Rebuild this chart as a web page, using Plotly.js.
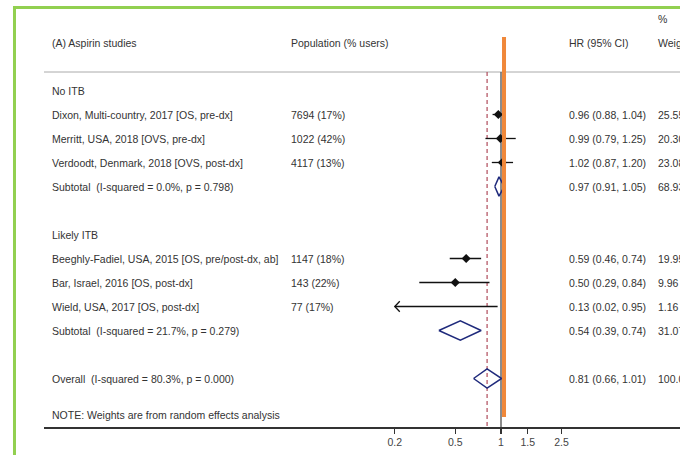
<!DOCTYPE html>
<html>
<head>
<meta charset="utf-8">
<script src="https://cdn.plot.ly/plotly-3.0.1.min.js"></script>
<style>
  html, body { margin: 0; padding: 0; background: #ffffff; }
  #chart { width: 680px; height: 455px; }
</style>
</head>
<body>
<div id="chart"></div>
<script>
// ---------------- data ----------------
const panelTitle = "(A) Aspirin studies";
const colHeaders = ["Population (% users)", "HR (95% CI)", "Weight"];
const weightHeaderTop = "%";

const groupNames = ["No ITB", "Likely ITB"];

const studies = [
  "Dixon, Multi-country, 2017 [OS, pre-dx]",
  "Merritt, USA, 2018 [OVS, pre-dx]",
  "Verdoodt, Denmark, 2018 [OVS, post-dx]",
  "Beeghly-Fadiel, USA, 2015 [OS, pre/post-dx, ab]",
  "Bar, Israel, 2016 [OS, post-dx]",
  "Wield, USA, 2017 [OS, post-dx]"
];
const studyGroup = [0, 0, 0, 1, 1, 1];
const population = ["7694 (17%)", "1022 (42%)", "4117 (13%)", "1147 (18%)", "143 (22%)", "77 (17%)"];
const studyHR = [0.96, 0.99, 1.02, 0.59, 0.50, 0.13];
const studyLo = [0.88, 0.79, 0.87, 0.46, 0.29, 0.02];
const studyHi = [1.04, 1.25, 1.20, 0.74, 0.84, 0.95];
const studyWeight = [25.55, 20.30, 23.08, 19.95, 9.96, 1.16];

const subtotalLabels = [
  "Subtotal \u00a0(I-squared = 0.0%, p = 0.798)",
  "Subtotal \u00a0(I-squared = 21.7%, p = 0.279)"
];
const subHR = [0.97, 0.54];
const subLo = [0.91, 0.39];
const subHi = [1.05, 0.74];
const subWeight = [68.93, 31.07];

const overallLabel = "Overall \u00a0(I-squared = 80.3%, p = 0.000)";
const overallHR = 0.81;
const overallLo = 0.66;
const overallHi = 1.01;
const overallWeight = 100.00;

const noteText = "NOTE: Weights are from random effects analysis";

const tickVals = [0.2, 0.5, 1, 1.5, 2.5];
const tickText = ["0.2", "0.5", "1", "1.5", "2.5"];

// ---------------- layout helpers ----------------
const FONT = "Liberation Sans, Arial, sans-serif";
const TXT = "#333333";
const FS = 10.5;
const displayMin = tickVals[0];

// row order: group header, studies, subtotal, blank ... overall, note
const rowOf = {};
let r = 0;
const rows = { group: [], study: [], sub: [] };
groupNames.forEach((g, gi) => {
  rows.group[gi] = r++;
  studies.forEach((s, si) => { if (studyGroup[si] === gi) rows.study[si] = r++; });
  rows.sub[gi] = r++;
  r++; // blank row
});
rows.overall = r;
rows.note = r + 1.5;
const yv = i => -i;        // row index -> y value
const headerY = 2;
const sepY = 0.771;
const yBottom = -14.021;
const yTop = 3.771;

const colX = { label: 0.0095, pop: 0.3853, hr: 0.8224, wt: 0.9623 };

const annotations = [];
function txt(x, y, s) {
  annotations.push({ xref: "paper", yref: "y", x: x, y: y, text: s, showarrow: false,
    xanchor: "left", yanchor: "middle", font: { family: FONT, size: FS, color: TXT } });
}
const fmtCI = (h, l, u) => h.toFixed(2) + " (" + l.toFixed(2) + ", " + u.toFixed(2) + ")";

txt(colX.label, headerY, panelTitle);
txt(colX.pop, headerY, colHeaders[0]);
txt(colX.hr, headerY, colHeaders[1]);
txt(colX.wt, headerY, colHeaders[2]);
txt(colX.wt, 2.98, weightHeaderTop);

groupNames.forEach((g, gi) => {
  txt(colX.label, yv(rows.group[gi]), g);
  txt(colX.label, yv(rows.sub[gi]), subtotalLabels[gi]);
  txt(colX.hr, yv(rows.sub[gi]), fmtCI(subHR[gi], subLo[gi], subHi[gi]));
  txt(colX.wt, yv(rows.sub[gi]), subWeight[gi].toFixed(2));
});
studies.forEach((s, si) => {
  const y = yv(rows.study[si]);
  txt(colX.label, y, s);
  txt(colX.pop, y, population[si]);
  txt(colX.hr, y, fmtCI(studyHR[si], studyLo[si], studyHi[si]));
  txt(colX.wt, y, studyWeight[si].toFixed(2));
});
txt(colX.label, yv(rows.overall), overallLabel);
txt(colX.hr, yv(rows.overall), fmtCI(overallHR, overallLo, overallHi));
txt(colX.wt, yv(rows.overall), overallWeight.toFixed(2));
txt(colX.label, yv(rows.note), noteText);

// ---------------- traces ----------------
const traces = [];

// null line and overall dashed line
traces.push({ x: [1, 1], y: [sepY, yBottom], mode: "lines", hoverinfo: "skip",
  line: { color: "#666666", width: 1.5 } });
traces.push({ x: [overallHR, overallHR], y: [sepY, yBottom], mode: "lines", hoverinfo: "skip",
  line: { color: "#b04a5a", width: 1.2, dash: "4px,3px" } });

// CIs
const ciX = [], ciY = [], arX = [], arY = [], ptX = [], ptY = [];
studies.forEach((s, si) => {
  const y = yv(rows.study[si]);
  const l = Math.max(studyLo[si], displayMin);
  ciX.push(l, studyHi[si], null); ciY.push(y, y, null);
  if (studyLo[si] < displayMin) {
    const k = Math.pow(10, 5 / 152);
    arX.push(displayMin * k, displayMin, displayMin * k, null);
    arY.push(y + 0.22, y, y - 0.22, null);
  }
  if (studyHR[si] >= displayMin) { ptX.push(studyHR[si]); ptY.push(y); }
});
traces.push({ x: ciX, y: ciY, mode: "lines", hoverinfo: "skip", line: { color: "#111111", width: 1.3 } });
traces.push({ x: arX, y: arY, mode: "lines", hoverinfo: "skip", line: { color: "#111111", width: 1.3 } });
traces.push({ x: ptX, y: ptY, mode: "markers", hoverinfo: "skip",
  marker: { symbol: "diamond", size: 7, color: "#111111" } });

// diamonds
const dX = [], dY = [];
const h = 0.4;
function diamond(est, lo, hi, y) {
  dX.push(lo, est, hi, est, lo, null);
  dY.push(y, y + h, y, y - h, y, null);
}
groupNames.forEach((g, gi) => diamond(subHR[gi], subLo[gi], subHi[gi], yv(rows.sub[gi])));
diamond(overallHR, overallLo, overallHi, yv(rows.overall));
traces.push({ x: dX, y: dY, mode: "lines", hoverinfo: "skip", line: { color: "#1f2a7c", width: 1.5 } });

// ---------------- layout ----------------
const layout = {
  width: 680, height: 455,
  margin: { l: 44, r: 0, t: 0, b: 28, pad: 0 },
  paper_bgcolor: "#ffffff", plot_bgcolor: "#ffffff",
  showlegend: false,
  xaxis: {
    type: "log", range: [-3.0066, 1.1776],
    tickvals: tickVals, ticktext: tickText,
    ticks: "outside", ticklen: 5, tickwidth: 1.2, tickcolor: "#333333",
    showline: true, linecolor: "#333333", linewidth: 1.5,
    showgrid: false, zeroline: false,
    tickfont: { family: FONT, size: FS, color: "#444444" }
  },
  yaxis: { range: [yBottom, yTop], visible: false, showgrid: false, zeroline: false },
  annotations: annotations,
  shapes: [
    { type: "line", xref: "paper", yref: "y", x0: 0, x1: 1, y0: sepY, y1: sepY,
      line: { color: "#aaaaaa", width: 1 }, layer: "below" },
    { type: "line", xref: "paper", yref: "paper", x0: 0.7233, x1: 0.7233, y0: 0.0234, y1: 0.9133,
      line: { color: "#f0883a", width: 4 } },
    { type: "rect", xref: "paper", yref: "paper", x0: -0.0464, x1: 1.2, y0: -0.3, y1: 0.9824,
      line: { color: "#92d050", width: 3 }, fillcolor: "rgba(0,0,0,0)" }
  ]
};

Plotly.newPlot("chart", traces, layout, { displayModeBar: false, staticPlot: true });
</script>
</body>
</html>
